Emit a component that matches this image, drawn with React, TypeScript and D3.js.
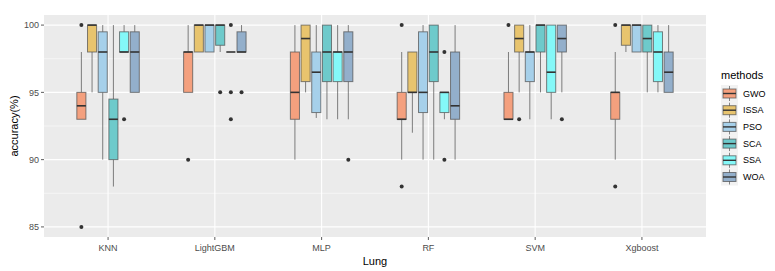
import React from "react";
import * as d3 from "d3";

const categories = ["KNN", "LightGBM", "MLP", "RF", "SVM", "Xgboost"];
const methods = ["GWO", "ISSA", "PSO", "SCA", "SSA", "WOA"];
const colors = ["#F4A07E", "#E8C46E", "#A6D0EA", "#6ECACB", "#84F8F8", "#93AFCB"];
const yTicks = [85, 90, 95, 100];

// each entry per category: [lowerWhisker, q1, median, q3, upperWhisker]
const GWO = [
  [93, 93, 94, 95, 98],
  [95, 95, 98, 98, 100],
  [90, 93, 95, 98, 100],
  [90, 93, 93, 95, 98],
  [93, 93, 93, 95, 98],
  [90, 93, 95, 95, 98],
];
const ISSA = [
  [95, 98, 100, 100, 100],
  [98, 98, 100, 100, 100],
  [95, 95.8, 99, 100, 100],
  [92, 95, 95, 98, 98],
  [95, 98, 99, 100, 100],
  [98, 98.5, 100, 100, 100],
];
const PSO = [
  [90, 95, 98, 99.5, 100],
  [98, 98, 100, 100, 100],
  [93.1, 93.5, 96.5, 98, 100],
  [90, 93.5, 95, 99.5, 100],
  [93, 95.8, 98, 98, 100],
  [98, 98, 100, 100, 100],
];
const SCA = [
  [88, 90, 93, 94.5, 100],
  [98, 98.5, 100, 100, 100],
  [93, 95.8, 98, 100, 100],
  [90, 95.8, 98, 100, 100],
  [95, 98, 100, 100, 100],
  [95, 98, 99, 100, 100],
];
const SSA = [
  [98, 98, 98, 99.5, 100],
  [98, 98, 98, 98, 98],
  [93, 95.8, 98, 98, 100],
  [93, 93.5, 95, 95, 95],
  [93, 95, 96.5, 100, 100],
  [95, 95.8, 98, 99.5, 100],
];
const WOA = [
  [95, 95, 98, 99.5, 100],
  [98, 98, 98, 99.5, 100],
  [93, 95.8, 98, 99.5, 100],
  [90, 93, 94, 98, 100],
  [95, 98, 99, 100, 100],
  [95, 95, 96.5, 98, 100],
];
// outliers per category
const GWOOut = [[100, 85], [90], [], [100, 88], [100], [100, 88]];
const ISSAOut = [[], [], [], [], [93], []];
const PSOOut = [[], [], [], [], [], []];
const SCAOut = [[], [95], [], [], [], []];
const SSAOut = [[93], [100, 95, 93], [], [98, 90], [], []];
const WOAOut = [[], [95], [90], [], [93], []];

const stats = [GWO, ISSA, PSO, SCA, SSA, WOA];
const outs = [GWOOut, ISSAOut, PSOOut, SCAOut, SSAOut, WOAOut];

const W = 775;
const H = 271;
const P = { left: 44, right: 706, top: 15, bottom: 237 };
const FONT = "'Liberation Sans', Arial, sans-serif";

export default function App() {
  const x = d3.scalePoint<string>().domain(categories).range([P.left, P.right]).padding(0.6);
  const step = x.step();
  const inner = d3
    .scaleBand<string>()
    .domain(methods)
    .range([-step * 0.3, step * 0.3])
    .paddingInner(0.15)
    .paddingOuter(0.075);
  const y = d3.scaleLinear().domain([84.25, 100.75]).range([P.bottom, P.top]);
  const minor = [87.5, 92.5, 97.5];
  const bw = inner.bandwidth();

  return (
    <svg width={W} height={H} style={{ position: "absolute", left: 0, top: 0 }} fontFamily={FONT}>
      <rect x={0} y={0} width={W} height={H} fill="#ffffff" />
      <rect x={P.left} y={P.top} width={P.right - P.left} height={P.bottom - P.top} fill="#EBEBEB" />
      {minor.map((v) => (
        <line key={"mi" + v} x1={P.left} x2={P.right} y1={y(v)} y2={y(v)} stroke="#fff" strokeWidth={0.55} />
      ))}
      {yTicks.map((v) => (
        <line key={"ma" + v} x1={P.left} x2={P.right} y1={y(v)} y2={y(v)} stroke="#fff" strokeWidth={1.1} />
      ))}
      {categories.map((c) => (
        <line key={"vx" + c} x1={x(c)} x2={x(c)} y1={P.top} y2={P.bottom} stroke="#fff" strokeWidth={1.1} />
      ))}
      {categories.map((c, ci) => (
        <g key={"cat" + c}>
          {methods.map((m, mi) => {
            const [lo, q1, med, q3, hi] = stats[mi][ci];
            const cx = (x(c) as number) + (inner(m) as number) + bw / 2;
            const x0 = cx - bw / 2;
            return (
              <g key={m}>
                <line x1={cx} x2={cx} y1={y(hi)} y2={y(q3)} stroke="#555" strokeOpacity={0.75} strokeWidth={1} />
                <line x1={cx} x2={cx} y1={y(q1)} y2={y(lo)} stroke="#555" strokeOpacity={0.75} strokeWidth={1} />
                <rect
                  x={x0}
                  y={y(q3)}
                  width={bw}
                  height={Math.max(0, y(q1) - y(q3))}
                  fill={colors[mi]}
                  stroke="#4d4d4d"
                  strokeOpacity={0.7}
                  strokeWidth={1}
                />
                <line x1={x0} x2={x0 + bw} y1={y(med)} y2={y(med)} stroke="#333" strokeWidth={1.6} />
                {outs[mi][ci].map((o, oi) => (
                  <circle key={oi} cx={cx} cy={y(o)} r={2} fill="#333" />
                ))}
              </g>
            );
          })}
        </g>
      ))}
      {/* y axis */}
      {yTicks.map((v) => (
        <g key={"yt" + v}>
          <line x1={P.left - 3} x2={P.left} y1={y(v)} y2={y(v)} stroke="#333" strokeWidth={0.8} />
          <text x={P.left - 5} y={y(v)} dy="0.35em" textAnchor="end" fontSize={9} fill="#4D4D4D">
            {v}
          </text>
        </g>
      ))}
      {categories.map((c) => (
        <g key={"xt" + c}>
          <line x1={x(c)} x2={x(c)} y1={P.bottom} y2={P.bottom + 3} stroke="#333" strokeWidth={0.8} />
          <text x={x(c)} y={P.bottom + 14} textAnchor="middle" fontSize={9} fill="#4D4D4D">
            {c}
          </text>
        </g>
      ))}
      <text x={(P.left + P.right) / 2} y={P.bottom + 28} textAnchor="middle" fontSize={11} fill="#000">
        Lung
      </text>
      <text
        transform={`translate(14,${(P.top + P.bottom) / 2}) rotate(-90)`}
        textAnchor="middle"
        dy="0.35em"
        fontSize={11}
        fill="#000"
      >
        accuracy(%)
      </text>
      {/* legend */}
      <text x={721} y={79} fontSize={11} fill="#000">
        methods
      </text>
      {methods.map((m, i) => {
        const ky = 85 + i * 16.7;
        const kx = 721;
        const ks = 17;
        return (
          <g key={"lg" + m}>
            <rect x={kx} y={ky} width={ks} height={ks} fill="#F2F2F2" />
            <line x1={kx + ks / 2} x2={kx + ks / 2} y1={ky + 1} y2={ky + ks - 1} stroke="#555" strokeOpacity={0.7} />
            <rect
              x={kx + 2}
              y={ky + 4}
              width={ks - 4}
              height={ks - 8}
              fill={colors[i]}
              stroke="#4d4d4d"
              strokeOpacity={0.7}
            />
            <line x1={kx + 2} x2={kx + ks - 2} y1={ky + ks / 2} y2={ky + ks / 2} stroke="#333" strokeWidth={1.4} />
            <text x={743} y={ky + ks / 2} dy="0.35em" fontSize={9} fill="#000">
              {m}
            </text>
          </g>
        );
      })}
    </svg>
  );
}
